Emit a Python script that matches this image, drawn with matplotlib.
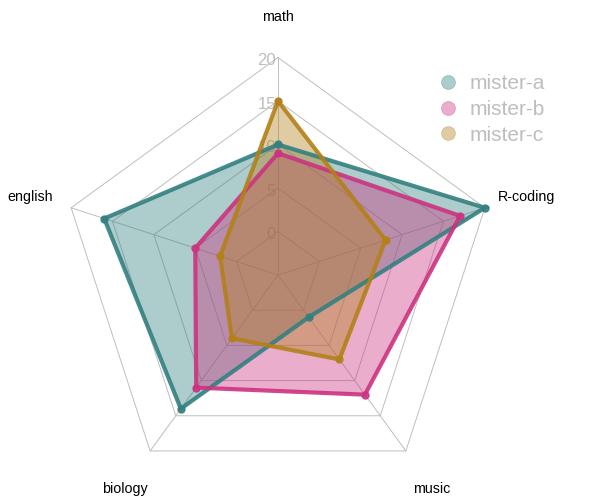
import numpy as np
import matplotlib
matplotlib.use("Agg")
import matplotlib.pyplot as plt
from matplotlib.lines import Line2D

categories = ["math", "english", "biology", "music", "R-coding"]
series_names = ["mister-a", "mister-b", "mister-c"]
mister_a = [10, 16, 14, 1, 20]
mister_b = [9, 5, 11, 12, 17]
mister_c = [15, 2, 4, 7, 8]
axis_ticks = [0, 5, 10, 15, 20]
vmin, vmax = 0, 20

border_cols = [(0.2, 0.5, 0.5, 0.9), (0.8, 0.2, 0.5, 0.9), (0.7, 0.5, 0.1, 0.9)]
fill_cols = [(0.2, 0.5, 0.5, 0.4), (0.8, 0.2, 0.5, 0.4), (0.7, 0.5, 0.1, 0.4)]

plt.rcParams['font.family'] = ['Liberation Sans', 'DejaVu Sans']

W, H = 596, 500
cx, cy, R = 278, 275, 217.5
fig = plt.figure(figsize=(W / 100, H / 100), dpi=100)
ax = fig.add_axes([0, 0, 1, 1])
ax.set_xlim(-cx / R, (W - cx) / R)
ax.set_ylim(-(H - cy) / R, cy / R)
ax.set_aspect('equal')
ax.axis('off')

n = len(categories)
ang = np.deg2rad(90 + 360.0 / n * np.arange(n))
seg = len(axis_ticks) - 1

def scale(v):
    v = np.asarray(v, dtype=float)
    return 1.0 / (seg + 1) + (v - vmin) / (vmax - vmin) * seg / (seg + 1)

# grid rings
grid_col = '#BEBEBE'
for t in axis_ticks:
    r = scale(t)
    xs = np.append(r * np.cos(ang), r * np.cos(ang[0]))
    ys = np.append(r * np.sin(ang), r * np.sin(ang[0]))
    ax.plot(xs, ys, color=grid_col, lw=0.7, zorder=1)
for a in ang:
    ax.plot([0, np.cos(a)], [0, np.sin(a)], color=grid_col, lw=0.7, zorder=1)

# axis tick labels
dy = 3.5 / R
for t in axis_ticks:
    ax.text(-0.01, scale(t) - dy, str(t), color=grid_col, fontsize=12,
            ha='right', va='center', zorder=2)

# series
for vals, bc, fc in zip([mister_a, mister_b, mister_c], border_cols, fill_cols):
    r = scale(vals)
    xs = r * np.cos(ang)
    ys = r * np.sin(ang)
    ax.fill(xs, ys, color=fc, lw=0, zorder=3)
    ax.plot(np.append(xs, xs[0]), np.append(ys, ys[0]), color=bc, lw=3,
            zorder=4, solid_joinstyle='miter')
    ax.plot(xs, ys, 'o', color=bc, ms=5, zorder=5)

# category labels
for name, a in zip(categories, ang):
    ax.text(1.2 * np.cos(a), 1.2 * np.sin(a) - 3 / R, name, fontsize=10.3,
            ha='center', va='center', color='black')

handles = [Line2D([], [], ls='none', marker='o', ms=10, mfc=fc,
                  mec=(bc[0], bc[1], bc[2], 0.35), mew=0.6)
           for fc, bc in zip(fill_cols, border_cols)]
leg = ax.legend(handles, series_names, loc='upper left',
                bbox_to_anchor=(438 / W, 1 - 74 / H), bbox_transform=fig.transFigure,
                frameon=False, fontsize=15, labelcolor=grid_col,
                handlelength=1.0, handletextpad=0.5, labelspacing=0.33,
                borderpad=0, borderaxespad=0)

fig.savefig("out.png", dpi=100)
